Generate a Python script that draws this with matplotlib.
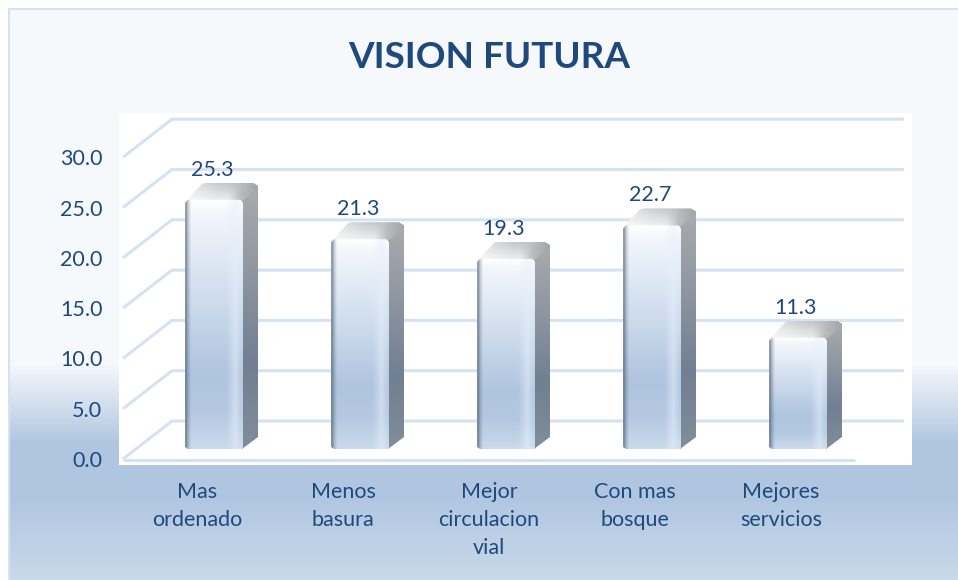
# filename: vision_futura.py
import numpy as np
import matplotlib
matplotlib.use('Agg')
import matplotlib.pyplot as plt
from matplotlib.colors import to_rgb
from matplotlib.patches import Polygon, Rectangle

# Data
categories = ['Mas\nordenado', 'Menos\nbasura', 'Mejor\ncirculacion\nvial', 'Con mas\nbosque', 'Mejores\nservicios']
values = [25.3, 21.3, 19.3, 22.7, 11.3]
value_labels = ['25.3', '21.3', '19.3', '22.7', '11.3']
y_ticks = [0, 5, 10, 15, 20, 25, 30]
title = 'VISION FUTURA'

W, H = 958, 580
TEXT = '#1F497D'
GRID = '#D5E2F3'
FONT = ['Lato', 'DejaVu Sans']
plt.rcParams['font.family'] = FONT


def stops(pos, colors, n):
    # vertical or horizontal colour ramp, n samples
    t = np.linspace(0, 1, n)
    rgb = np.array([to_rgb(c) for c in colors])
    return np.stack([np.interp(t, pos, rgb[:, i]) for i in range(3)], axis=1)


fig = plt.figure(figsize=(W / 100, H / 100), dpi=100, facecolor='white')

# Background panel
bg = fig.add_axes([0, 0, 1, 1], zorder=0)
ramp = stops([0, 365 / H, 378 / H, 405 / H, 445 / H, 500 / H, 1],
             ['#F5F9FC', '#F5F9FC', '#E9EFF6', '#D3DFEE', '#AFC5E0', '#B1C7E1', '#C9D9EB'], H)
bg.imshow(ramp[:, None, :], extent=[0, W, H, 0], aspect='auto')
bg.add_patch(Rectangle((0, 0), W, 8, color='white', lw=0))
bg.add_patch(Rectangle((0, 0), 8, H, color='white', lw=0))
bg.add_patch(Rectangle((8, 8), W, 2, color=GRID, lw=0))
bg.add_patch(Rectangle((8, 8), 2, H, color=GRID, lw=0))
bg.add_patch(Rectangle((119, 113), 793, 352, color='white', lw=0))
bg.set_xlim(0, W)
bg.set_ylim(H, 0)
bg.axis('off')

fig.text(489 / W, 1 - 58 / H, title, color=TEXT, fontsize=26.6, fontweight='bold', ha='center', va='center')

# Axes over the white plot area, 146 px per category, about 10 px per unit
left, right, top, bottom = 119, 912, 113, 465
rect = [left / W, 1 - bottom / H, (right - left) / W, (bottom - top) / H]
x_lim = ((left - 214) / 146, (right - 214) / 146)

ax = fig.add_axes(rect, zorder=1)
ax.patch.set_alpha(0)
ax.set_xlim(*x_lim)
ax.set_ylim((459 - bottom) / 10.06, (459 - top) / 10.06)
for s in ax.spines.values():
    s.set_visible(False)
ax.set_yticks(y_ticks, [f'{t:.1f}' for t in y_ticks])
ax.set_xticks(np.arange(len(categories)) - 17 / 146, categories)
ax.tick_params(axis='both', length=0, labelcolor=TEXT, labelsize=15.5)
ax.tick_params(axis='y', pad=12)
ax.tick_params(axis='x', pad=12.5)
for lab in ax.get_xticklabels():
    lab.set_linespacing(1.48)
for lab in ax.get_yticklabels():
    lab.set_va('center_baseline')

# Walls and floor lines
dx, dy = 49 / 146, 38 / 10.06
x0, x1 = (123 - 214) / 146, (855 - 214) / 146
for t in y_ticks:
    ax.plot([x0, x0 + dx, x1 + dx], [t, t + dy, t + dy], color=GRID, lw=2.2, solid_capstyle='butt', zorder=1)
ax.plot([x0, x1], [-0.1, -0.1], color=GRID, lw=2.2, solid_capstyle='butt', zorder=1)

# Bars live in their own axes, they sit behind the front plane
bx = fig.add_axes(rect, zorder=2)
bx.patch.set_alpha(0)
bx.axis('off')
ylim2 = ((449 - bottom) / 9.85, (449 - top) / 9.85)

bar_w = 58 / 146
px, py = 1 / 146, 1 / 9.85
sx, sy = 15 * px, 12 * py
top_dy = 17 * py

n_h, n_w = 200, 60
for i, v in enumerate(values):
    xl, xr = i - bar_w / 2, i + bar_w / 2

    # side
    side = Polygon([(xr - px, 0), (xr + sx, sy), (xr + sx, v + top_dy - 4 * py), (xr - px, v)],
                   closed=True, fc='none', ec='none')
    bx.add_patch(side)
    col = stops([0, 0.3, 0.68, 1], ['#AAACAF', '#9299A2', '#707F92', '#818D99'], n_h)
    im = bx.imshow(col[:, None, :], extent=[xr - px, xr + sx, 0, v + top_dy], aspect='auto', zorder=3)
    im.set_clip_path(side)

    # top, whiter towards the front edge
    lid = Polygon([(xl, v - 2 * py), (xl + 3 * px, v + 1 * py), (xl + 17 * px, v + top_dy - 1 * py), (xl + 21 * px, v + top_dy),
                   (xr + 10 * px, v + top_dy), (xr + sx, v + top_dy - 3 * py), (xr + sx, v + top_dy - 5 * py), (xr, v - 1 * py)],
                  closed=True, fc='none', ec='none')
    bx.add_patch(lid)
    col = stops([0, 0.45, 0.72, 1], ['#E8E9EA', '#C8CACC', '#BFC1C3', '#A2A4A7'], n_w)
    img = np.repeat(col[None, :, :], 30, axis=0)
    fade = np.linspace(0, 0.75, 30)[:, None, None] * np.interp(np.linspace(0, 1, n_w), [0, 0.6, 0.76], [1, 1, 0])[None, :, None]
    img = img * (1 - fade) + fade
    im = bx.imshow(img, extent=[xl, xr + sx, v - 2 * py, v + top_dy], aspect='auto', zorder=3)
    im.set_clip_path(lid)

    # front face with small chamfered corners
    face = bx.bar(i, v, bar_w, color='none', zorder=4)[0]
    body = Polygon([(xl, 2 * py), (xl + 3 * px, 0), (xr - 3 * px, 0), (xr, 1 * py), (xr, v - 3 * py), (xr - 3 * px, v),
                    (xl + 3 * px, v), (xl, v - 3 * py)], closed=True, fc='none', ec='none')
    bx.add_patch(body)
    col = stops([0, 0.05, 0.25, 0.7, 0.85, 1], ['#FFFFFF', '#F4F7FB', '#DEE8F4', '#AFC4DF', '#B4C8E1', '#CBDAEC'], n_h)
    img = np.repeat(col[:, None, :], n_w, axis=1)
    u = np.linspace(0, 1, n_w)
    dark = np.interp(u, [0, 0.02, 0.05, 0.1], [0.55, 0.55, 0.25, 0])[None, :, None]
    img = img * (1 - dark) + np.array(to_rgb('#45576B')) * dark
    bright = np.interp(u, [0.72, 0.88, 0.96, 1], [0, 0.55, 0.2, 0.1])[None, :, None]
    img = img * (1 - bright) + np.array(to_rgb('#E6F0FC')) * bright
    im = bx.imshow(img, extent=[xl, xr, 0, v], aspect='auto', zorder=4)
    im.set_clip_path(body)

    bx.annotate(value_labels[i], (i, v), xytext=(-2 * 0.72, 30 * 0.72), textcoords='offset points',
                ha='center', va='center', color=TEXT, fontsize=15.5, zorder=5)

bx.set_xlim(*x_lim)
bx.set_ylim(*ylim2)

fig.savefig('out.png', dpi=100)
